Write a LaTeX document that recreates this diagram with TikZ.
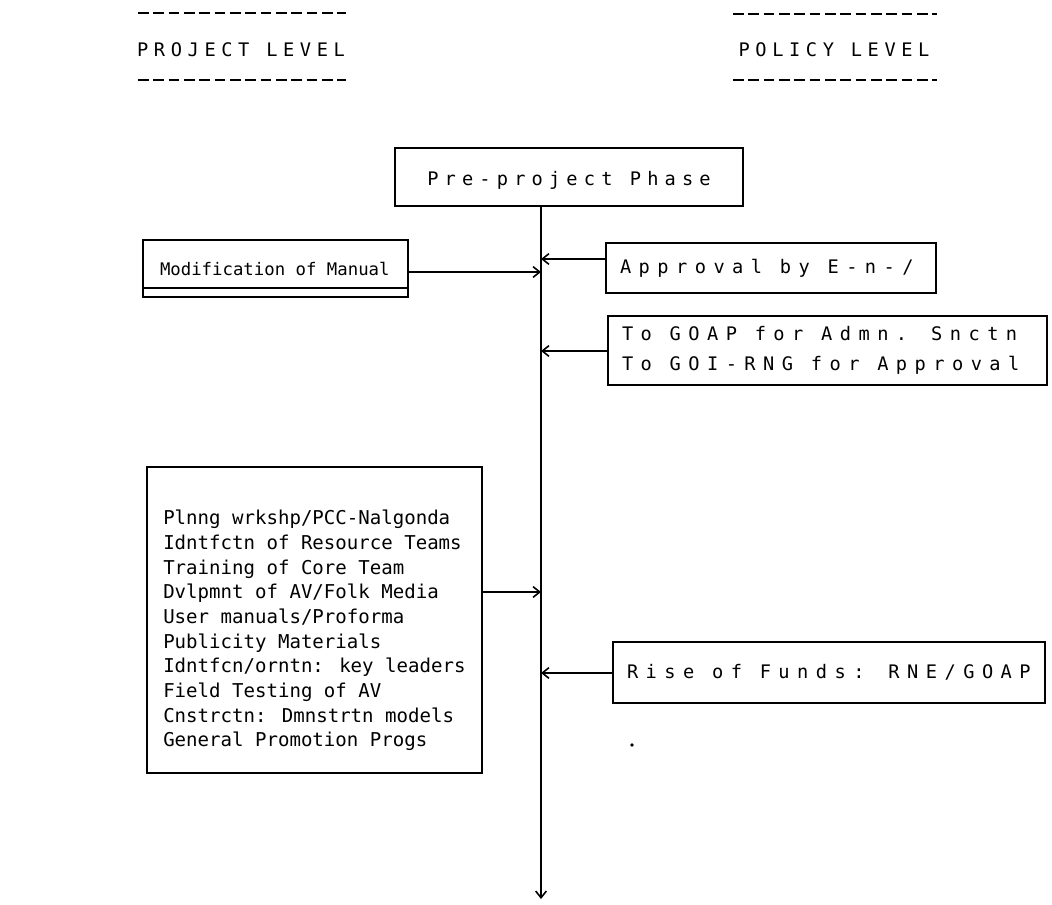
\documentclass[tikz,border=0pt]{standalone}
\usepackage{fontspec}
\usetikzlibrary{arrows.meta,calc}
% dot-matrix style printer fonts
\newfontfamily\prn{DejaVu Sans Mono}
\newfontfamily\prnpre[LetterSpace=33]{DejaVu Sans Mono}
\newfontfamily\prnwide[LetterSpace=40]{DejaVu Sans Mono}
\newfontfamily\prnhead[LetterSpace=30]{DejaVu Sans Mono}
% fixed word spaces of one full character cell
\newcommand\fixspace[1]{\fontdimen2\font=#1\fontdimen3\font=0pt\fontdimen4\font=0pt}
\newcommand\headprint{\prnhead\fontsize{14}{17}\selectfont\fixspace{12.63pt}}
\newcommand\preprint{\prnpre\fontsize{14}{17}\selectfont\fixspace{13.05pt}}
\newcommand\wideprint{\prnwide\fontsize{14}{22.5}\selectfont\fixspace{13.3pt}}
\newcommand\listprint{\prn\fontsize{14.3}{18.5}\selectfont\fixspace{8.61pt}}
\newcommand\modprint{\prn\fontsize{13}{16}\selectfont\fixspace{7.83pt}}

\begin{document}
\begin{tikzpicture}[x=0.75pt,y=-0.75pt,
  box/.style={draw, line width=1.2pt, inner sep=0pt},
  lbox/.style={box, align=left, inner xsep=10.5pt,
               execute at begin node={\spaceskip=0pt\xspaceskip=0pt}},
  arr/.style={-{Straight Barb[length=5pt,width=8pt]}, line width=1.2pt},
  rulerline/.style={line width=1.6pt, dash pattern=on 8pt off 3.5pt},
  headtxt/.style={font=\headprint},
  widetxt/.style={font=\wideprint},
  listtxt/.style={font=\listprint, align=left, inner sep=0pt,
                  execute at begin node={\spaceskip=0pt\xspaceskip=0pt}}]
\useasboundingbox (0,0) rectangle (1052,905);

% column headings
\node[headtxt] (projlvl) at (241,50) {PROJECT LEVEL};
\node[headtxt] (pollvl) at (834,50) {POLICY LEVEL};
\draw[rulerline] (138,13) -- (346,13);
\draw[rulerline] (138,80) -- (346,80);
\draw[rulerline] (733,14) -- (937,14);
\draw[rulerline] (733,80) -- (937,80);

% main time line
\node[box, font=\preprint, text height=16pt, text depth=3pt,
      minimum width=261pt, minimum height=43.5pt] (pre) at (569,177) {Pre-project Phase};
\coordinate (spineend) at (541,899);
\draw[arr] (pre.south -| spineend) -- (spineend);
\coordinate (j1) at (541,259);
\coordinate (j2) at (541,272);
\coordinate (j3) at (541,351);
\coordinate (j4) at (541,592);
\coordinate (j5) at (541,673);

% project level
\node[lbox, font=\modprint, inner xsep=12.75pt,
      text width=173.25pt, minimum height=42.75pt] (mod) at (275.5,268.5) {Modification of Manual};
\draw[line width=1.2pt] ($(mod.south west)+(0,-10)$) -- ($(mod.south east)+(0,-10)$);
\draw[arr] (mod.east |- j2) -- (j2);

\node[box, minimum width=251.25pt, minimum height=229.5pt] (prep) at (314.5,620) {};
\node[listtxt, anchor=north west] (preplist) at (163,510) {%
Plnng wrkshp/PCC-Nalgonda\\
Idntfctn of Resource Teams\\
Training of Core Team\\
Dvlpmnt of AV/Folk Media\\
User manuals/Proforma\\
Publicity Materials\\
Idntfcn/orntn: key leaders\\
Field Testing of AV\\
Cnstrctn: Dmnstrtn models\\
General Promotion Progs};
\draw[arr] (prep.east |- j4) -- (j4);

% policy level
\node[lbox, widetxt, text width=226.5pt, minimum height=37.5pt] (approval) at (771,268) {Approval by E-n-/};
\draw[arr] (approval.west |- j1) -- (j1);

\node[lbox, widetxt, text width=308.25pt, minimum height=51.75pt] (goap) at (827.5,350.5)
  {To GOAP for Admn. Snctn\\To GOI-RNG for Approval};
\draw[arr] (goap.west |- j3) -- (j3);

\node[lbox, widetxt, text width=303pt, minimum height=45.75pt] (rise) at (829,672.5) {Rise of Funds: RNE/GOAP};
\draw[arr] (rise.west |- j5) -- (j5);

% stray printer mark
\fill (632,745) circle[radius=1.4pt];
\end{tikzpicture}
\end{document}
